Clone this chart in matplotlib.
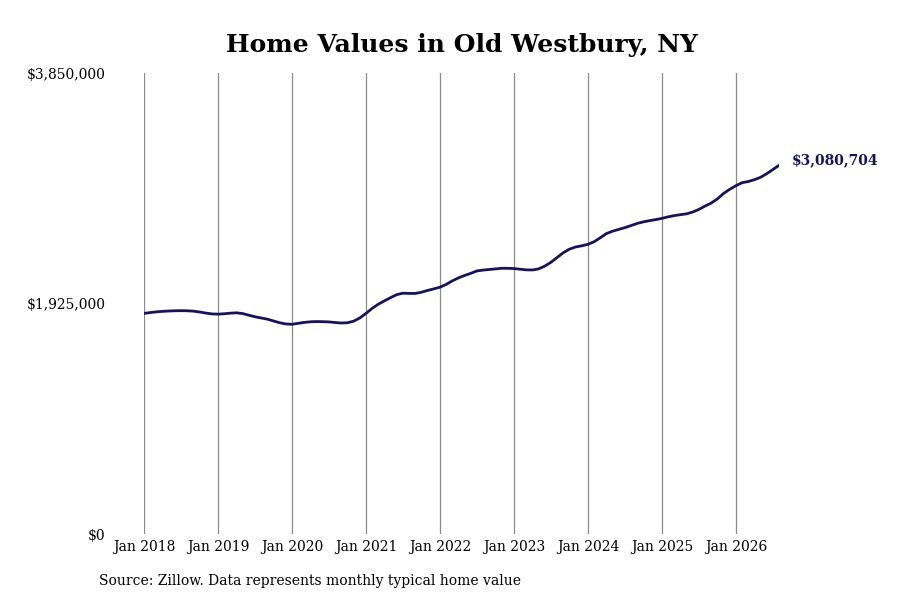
import numpy as np
import matplotlib
matplotlib.use('Agg')
import matplotlib.pyplot as plt

# monthly typical home value, Jan 2018 - Aug 2026 (in $1000s)
values_k = [
    1843, 1850, 1856, 1860, 1863, 1865, 1866, 1865, 1862, 1855, 1846, 1839,  # 2018
    1837, 1840, 1845, 1848, 1842, 1828, 1815, 1805, 1795, 1780, 1765, 1755,  # 2019
    1752, 1760, 1768, 1773, 1775, 1774, 1772, 1767, 1763, 1765, 1778, 1805,  # 2020
    1843, 1885, 1920, 1948, 1975, 2000, 2012, 2010, 2010, 2020, 2035, 2048,  # 2021
    2062, 2085, 2115, 2140, 2160, 2178, 2198, 2205, 2210, 2215, 2220, 2220,  # 2022
    2218, 2212, 2207, 2206, 2215, 2238, 2270, 2310, 2350, 2380, 2398, 2408,  # 2023
    2420, 2442, 2475, 2510, 2530, 2545, 2560, 2577, 2595, 2608, 2618, 2627,  # 2024
    2637, 2650, 2660, 2668, 2675, 2690, 2712, 2740, 2765, 2800, 2845, 2880,  # 2025
    2910, 2935, 2945, 2960, 2980, 3010, 3045, 3080.704,                      # 2026
]
values = np.array(values_k) * 1000
months = np.arange(len(values))

year_labels = ['Jan 2018', 'Jan 2019', 'Jan 2020', 'Jan 2021', 'Jan 2022',
               'Jan 2023', 'Jan 2024', 'Jan 2025', 'Jan 2026']
year_ticks = [12 * i for i in range(len(year_labels))]
y_ticks = [0, 1925000, 3850000]
y_labels = ['$0', '$1,925,000', '$3,850,000']

navy = '#15135f'
plt.rcParams['font.family'] = ['DejaVu Serif']

fig = plt.figure(figsize=(9, 6), dpi=100)
ax = fig.add_axes([0.16, 0.11, 0.7056, 0.768])

ax.plot(months, values, color=navy, lw=2, solid_capstyle='round')
ax.set_xlim(0, months[-1])
ax.set_ylim(0, 3850000)

ax.set_xticks(year_ticks)
ax.set_xticklabels(year_labels, fontsize=10)
ax.set_yticks(y_ticks)
ax.set_yticklabels(y_labels, fontsize=10)
ax.tick_params(axis='both', length=0)
ax.tick_params(axis='y', pad=27.5)
ax.tick_params(axis='x', pad=4)
for s in ax.spines.values():
    s.set_visible(False)
ax.grid(axis='x', color='#8c8c8c', lw=0.9)
ax.set_axisbelow(True)

ax.annotate('$3,080,704', (months[-1], values[-1]), xytext=(9.5, 4),
            textcoords='offset points', color=navy, fontsize=10,
            fontweight='bold', va='center', ha='left', annotation_clip=False)

ax.set_title('Home Values in Old Westbury, NY', fontsize=18, fontweight='bold', pad=15)
fig.text(99 / 900, 1 - 581 / 600, 'Source: Zillow. Data represents monthly typical home value',
         fontsize=10, va='center', ha='left')

fig.savefig('out.png', dpi=100)
